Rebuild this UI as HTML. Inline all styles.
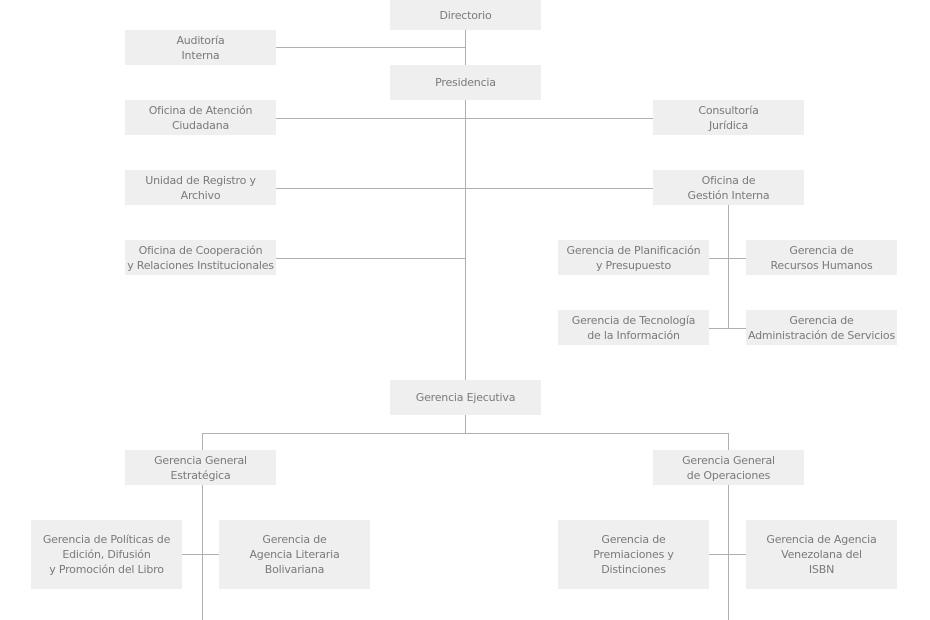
<!DOCTYPE html>
<html><head><meta charset="utf-8"><style>
body{margin:0;width:930px;height:620px;background:#fff;position:relative;overflow:hidden;font-family:"DejaVu Sans","Liberation Sans",sans-serif;}
.b{position:absolute;background:#efefef;color:#7a7a7a;font-size:11px;line-height:15px;display:flex;align-items:center;justify-content:center;text-align:center;letter-spacing:-0.2px}
.h{position:absolute;height:1px;background:#b0b0b0}
.v{position:absolute;width:1px;background:#b0b0b0}
</style></head><body>
<div class="v" style="left:465px;top:30px;height:350px"></div>
<div class="v" style="left:465px;top:415px;height:18px"></div>
<div class="h" style="left:276px;top:47px;width:189px"></div>
<div class="h" style="left:276px;top:118px;width:377px"></div>
<div class="h" style="left:276px;top:188px;width:377px"></div>
<div class="h" style="left:276px;top:258px;width:189px"></div>
<div class="v" style="left:728px;top:205px;height:123px"></div>
<div class="h" style="left:709px;top:258px;width:37px"></div>
<div class="h" style="left:709px;top:328px;width:37px"></div>
<div class="h" style="left:202px;top:433px;width:527px"></div>
<div class="v" style="left:202px;top:433px;height:17px"></div>
<div class="v" style="left:728px;top:433px;height:17px"></div>
<div class="v" style="left:202px;top:485px;height:135px"></div>
<div class="v" style="left:728px;top:485px;height:135px"></div>
<div class="h" style="left:182px;top:554px;width:37px"></div>
<div class="h" style="left:709px;top:554px;width:37px"></div>

<div class="b" style="left:390px;top:0;width:151px;height:30px">Directorio</div>
<div class="b" style="left:125px;top:30px;width:151px;height:35px">Auditoría<br>Interna</div>
<div class="b" style="left:390px;top:65px;width:151px;height:35px">Presidencia</div>
<div class="b" style="left:125px;top:100px;width:151px;height:35px">Oficina de Atención<br>Ciudadana</div>
<div class="b" style="left:653px;top:100px;width:151px;height:35px">Consultoría<br>Jurídica</div>
<div class="b" style="left:125px;top:170px;width:151px;height:35px">Unidad de Registro y<br>Archivo</div>
<div class="b" style="left:653px;top:170px;width:151px;height:35px">Oficina de<br>Gestión Interna</div>
<div class="b" style="left:125px;top:240px;width:151px;height:35px;white-space:nowrap">Oficina de Cooperación<br>y Relaciones Institucionales</div>
<div class="b" style="left:558px;top:240px;width:151px;height:35px">Gerencia de Planificación<br>y Presupuesto</div>
<div class="b" style="left:746px;top:240px;width:151px;height:35px">Gerencia de<br>Recursos Humanos</div>
<div class="b" style="left:558px;top:310px;width:151px;height:35px">Gerencia de Tecnología<br>de la Información</div>
<div class="b" style="left:746px;top:310px;width:151px;height:35px;white-space:nowrap">Gerencia de<br>Administración de Servicios</div>
<div class="b" style="left:390px;top:380px;width:151px;height:35px">Gerencia Ejecutiva</div>
<div class="b" style="left:125px;top:450px;width:151px;height:35px">Gerencia General<br>Estratégica</div>
<div class="b" style="left:653px;top:450px;width:151px;height:35px">Gerencia General<br>de Operaciones</div>
<div class="b" style="left:31px;top:520px;width:151px;height:69px">Gerencia de Políticas de<br>Edición, Difusión<br>y Promoción del Libro</div>
<div class="b" style="left:219px;top:520px;width:151px;height:69px">Gerencia de<br>Agencia Literaria<br>Bolivariana</div>
<div class="b" style="left:558px;top:520px;width:151px;height:69px">Gerencia de<br>Premiaciones y<br>Distinciones</div>
<div class="b" style="left:746px;top:520px;width:151px;height:69px">Gerencia de Agencia<br>Venezolana del<br>ISBN</div>
</body></html>
